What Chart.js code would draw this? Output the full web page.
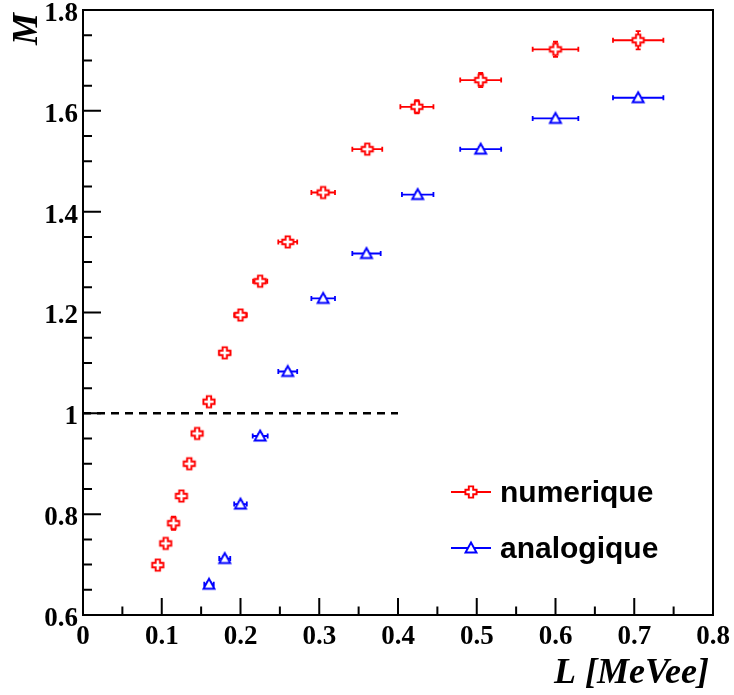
<!DOCTYPE html>
<html><head><meta charset="utf-8">
<script src="https://cdn.jsdelivr.net/npm/chart.js@4.4.1/dist/chart.umd.min.js"></script>
<style>html,body{margin:0;padding:0;background:#fff;}</style>
</head><body>
<canvas id="c" width="734" height="695"></canvas>
<script>
// ---- data ----
const seriesNames = ['numerique', 'analogique'];
const numX    = [0.095, 0.105, 0.115, 0.125, 0.135, 0.145, 0.160, 0.180, 0.200, 0.225, 0.260, 0.305, 0.361, 0.424, 0.505, 0.600, 0.705];
const numY    = [0.699, 0.742, 0.782, 0.836, 0.900, 0.960, 1.023, 1.120, 1.195, 1.262, 1.340, 1.438, 1.524, 1.608, 1.661, 1.722, 1.740];
const numXErr = [0.004, 0.004, 0.005, 0.005, 0.005, 0.006, 0.006, 0.007, 0.008, 0.009, 0.012, 0.015, 0.019, 0.021, 0.026, 0.029, 0.032];
const numYErr = [0.005, 0.006, 0.013, 0.006, 0.007, 0.007, 0.007, 0.007, 0.007, 0.008, 0.008, 0.008, 0.009, 0.013, 0.014, 0.015, 0.018];
const anaX    = [0.160, 0.180, 0.200, 0.225, 0.260, 0.305, 0.360, 0.425, 0.505, 0.600, 0.705];
const anaY    = [0.661, 0.712, 0.820, 0.955, 1.083, 1.228, 1.317, 1.434, 1.524, 1.585, 1.626];
const anaXErr = [0.006, 0.007, 0.008, 0.0095, 0.012, 0.015, 0.018, 0.020, 0.026, 0.029, 0.032];
const anaYErr = [0.004, 0.004, 0.004, 0.004, 0.004, 0.004, 0.004, 0.004, 0.004, 0.004, 0.004];
const refLineX = [0, 0.4];
const refLineY = [1, 1];
const xMajorTicks = [0, 0.1, 0.2, 0.3, 0.4, 0.5, 0.6, 0.7, 0.8];
const yMajorTicks = [0.6, 0.8, 1.0, 1.2, 1.4, 1.6, 1.8];
const xTitle = 'L [MeVee]';
const yTitle = 'M';

// ---- marker images ----
function crossImg(color) {
  const s = 16, c = document.createElement('canvas');
  c.width = s; c.height = s;
  const g = c.getContext('2d');
  const m = s / 2, L = 5.6, a = 2.2;
  g.beginPath();
  g.moveTo(m - a, m - L); g.lineTo(m + a, m - L); g.lineTo(m + a, m - a);
  g.lineTo(m + L, m - a); g.lineTo(m + L, m + a); g.lineTo(m + a, m + a);
  g.lineTo(m + a, m + L); g.lineTo(m - a, m + L); g.lineTo(m - a, m + a);
  g.lineTo(m - L, m + a); g.lineTo(m - L, m - a); g.lineTo(m - a, m - a);
  g.closePath();
  g.fillStyle = '#fff'; g.fill();
  g.lineWidth = 1.9; g.strokeStyle = color; g.stroke();
  return c;
}
function triImg(color) {
  const s = 16, c = document.createElement('canvas');
  c.width = s; c.height = s;
  const g = c.getContext('2d');
  const m = s / 2;
  g.beginPath();
  g.moveTo(m, m - 5.5); g.lineTo(m + 5.5, m + 4.5); g.lineTo(m - 5.5, m + 4.5);
  g.closePath();
  g.fillStyle = '#fff'; g.fill();
  g.lineWidth = 1.9; g.strokeStyle = color; g.stroke();
  return c;
}
const RED = '#ff0000', BLUE = '#0000ff';
const redMarker = crossImg(RED), blueMarker = triImg(BLUE);

const pts = (xs, ys) => xs.map((x, i) => ({x: x, y: ys[i]}));

// ---- plugins ----
const bgPlugin = {
  id: 'bg',
  beforeDraw(chart) {
    const ctx = chart.ctx;
    ctx.save(); ctx.fillStyle = '#fff'; ctx.fillRect(0, 0, chart.width, chart.height); ctx.restore();
  }
};

const errPlugin = {
  id: 'errbars',
  beforeDatasetsDraw(chart) {
    const ctx = chart.ctx, xs = chart.scales.x, ys = chart.scales.y;
    chart.data.datasets.forEach(ds => {
      if (!ds.xErr) return;
      ctx.save();
      ctx.strokeStyle = ds.borderColor; ctx.lineWidth = 1.8;
      ds.data.forEach((p, i) => {
        const cx = xs.getPixelForValue(p.x), cy = ys.getPixelForValue(p.y);
        const x1 = xs.getPixelForValue(p.x - ds.xErr[i]), x2 = xs.getPixelForValue(p.x + ds.xErr[i]);
        const y1 = ys.getPixelForValue(p.y - ds.yErr[i]), y2 = ys.getPixelForValue(p.y + ds.yErr[i]);
        const cap = 2.5;
        ctx.beginPath();
        ctx.moveTo(x1, cy); ctx.lineTo(x2, cy);
        ctx.moveTo(x1, cy - cap); ctx.lineTo(x1, cy + cap);
        ctx.moveTo(x2, cy - cap); ctx.lineTo(x2, cy + cap);
        ctx.moveTo(cx, y1); ctx.lineTo(cx, y2);
        ctx.moveTo(cx - cap, y1); ctx.lineTo(cx + cap, y1);
        ctx.moveTo(cx - cap, y2); ctx.lineTo(cx + cap, y2);
        ctx.stroke();
      });
      ctx.restore();
    });
  }
};

const titleFontCss = 'italic bold 36px "Liberation Serif", "Times New Roman", serif';

const framePlugin = {
  id: 'frame',
  afterDraw(chart) {
    const ctx = chart.ctx, ca = chart.chartArea, xs = chart.scales.x, ys = chart.scales.y;
    ctx.save();
    ctx.strokeStyle = '#000'; ctx.lineWidth = 2;
    ctx.strokeRect(ca.left, ca.top, ca.right - ca.left, ca.bottom - ca.top);
    ctx.beginPath();
    for (let v = xs.min; v <= xs.max + 1e-9; v += 0.05) {
      const px = xs.getPixelForValue(v);
      const major = Math.abs(Math.round(v * 10) - v * 10) < 1e-6;
      ctx.moveTo(px, ca.bottom); ctx.lineTo(px, ca.bottom - (major ? 17 : 8.5));
    }
    for (let v = ys.min; v <= ys.max + 1e-9; v += 0.05) {
      const py = ys.getPixelForValue(v);
      const major = Math.abs(Math.round(v * 5) - v * 5) < 1e-6;
      ctx.moveTo(ca.left, py); ctx.lineTo(ca.left + (major ? 18 : 9), py);
    }
    ctx.stroke();
    // axis titles (ROOT style: at the end of each axis)
    ctx.fillStyle = '#000';
    ctx.font = titleFontCss;
    ctx.textAlign = 'right'; ctx.textBaseline = 'alphabetic';
    ctx.fillText(xTitle, ca.right - 4, 683);
    ctx.save();
    ctx.translate(37, ca.top + 3);
    ctx.rotate(-Math.PI / 2);
    ctx.textAlign = 'right'; ctx.textBaseline = 'alphabetic';
    ctx.fillText(yTitle, 0, 0);
    ctx.restore();
    // legend
    const items = [
      {name: seriesNames[0], color: RED, img: redMarker, y: 492},
      {name: seriesNames[1], color: BLUE, img: blueMarker, y: 548}
    ];
    ctx.font = 'bold 30px "Liberation Sans", Arial, sans-serif';
    ctx.textBaseline = 'alphabetic'; ctx.textAlign = 'left';
    items.forEach(it => {
      ctx.strokeStyle = it.color; ctx.lineWidth = 1.8;
      ctx.beginPath(); ctx.moveTo(451, it.y); ctx.lineTo(491, it.y); ctx.stroke();
      ctx.drawImage(it.img, 471 - 8, it.y - 8);
      ctx.fillStyle = '#000';
      ctx.fillText(it.name, 500, it.y + 10);
    });
    ctx.restore();
  }
};

const tickFont = {family: '"Liberation Serif", "Times New Roman", serif', weight: 'bold', size: 27, lineHeight: 1};
const fmt = v => String(Number(Number(v).toFixed(2)));

new Chart(document.getElementById('c'), {
  type: 'scatter',
  data: {
    datasets: [
      {
        label: seriesNames[0], data: pts(numX, numY), xErr: numXErr, yErr: numYErr,
        borderColor: RED, backgroundColor: RED, pointStyle: redMarker, pointRadius: 6, pointHoverRadius: 6, showLine: false
      },
      {
        label: seriesNames[1], data: pts(anaX, anaY), xErr: anaXErr, yErr: anaYErr,
        borderColor: BLUE, backgroundColor: BLUE, pointStyle: blueMarker, pointRadius: 6, pointHoverRadius: 6, showLine: false
      },
      {
        label: 'ref', data: pts(refLineX, refLineY), showLine: true, borderColor: '#000', borderWidth: 2.5,
        borderDash: [8, 6], pointRadius: 0, pointHoverRadius: 0, fill: false
      }
    ]
  },
  options: {
    responsive: false, animation: false, devicePixelRatio: 1,
    layout: {padding: {left: 0, right: 21, top: 10, bottom: 0}},
    plugins: {legend: {display: false}, tooltip: {enabled: false}},
    scales: {
      x: {
        type: 'linear', min: 0, max: 0.8,
        afterBuildTicks: s => { s.ticks = xMajorTicks.map(v => ({value: v})); },
        afterFit: s => { s.height = 80; s.paddingLeft = 0; s.paddingRight = 0; },
        grid: {display: false, drawTicks: false}, border: {display: false},
        ticks: {color: '#000', font: tickFont, padding: 9, maxRotation: 0, autoSkip: false, callback: fmt},
        title: {display: false, text: xTitle}
      },
      y: {
        type: 'linear', min: 0.6, max: 1.8,
        afterBuildTicks: s => { s.ticks = yMajorTicks.map(v => ({value: v})); },
        afterFit: s => { s.width = 83; s.paddingTop = 0; s.paddingBottom = 0; },
        grid: {display: false, drawTicks: false}, border: {display: false},
        ticks: {color: '#000', font: tickFont, padding: 5, labelOffset: 4, autoSkip: false, callback: fmt},
        title: {display: false, text: yTitle}
      }
    }
  },
  plugins: [bgPlugin, errPlugin, framePlugin]
});
</script>
</body></html>
